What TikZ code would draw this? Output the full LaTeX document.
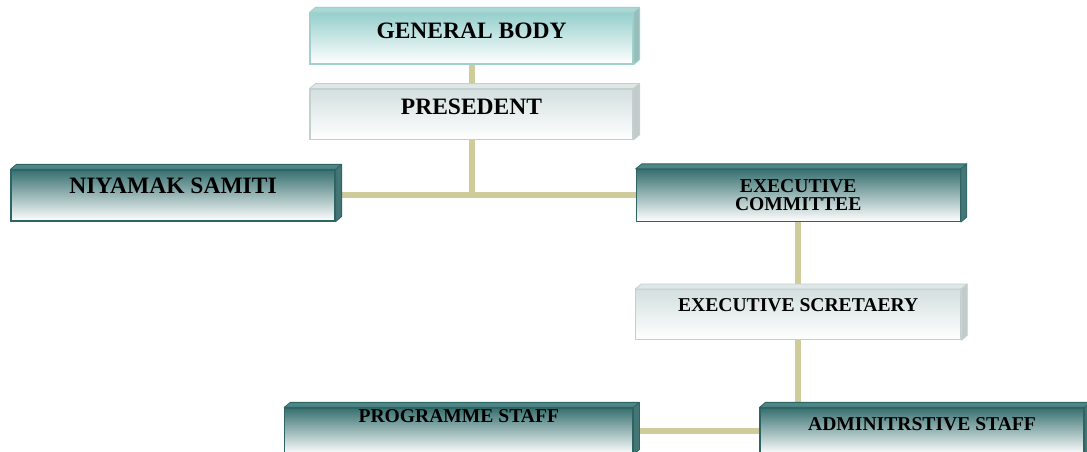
\documentclass[tikz,border=0pt]{standalone}
\usepackage{fontspec}
\setmainfont{Liberation Serif}
\usepackage{tikz}
\usetikzlibrary{positioning, backgrounds}

\definecolor{linkcol}{RGB}{206,204,155}
\definecolor{darkteal}{RGB}{56,112,112}
\definecolor{darkline}{RGB}{46,100,100}
\definecolor{darkface}{RGB}{78,134,134}
\definecolor{lightgrey}{RGB}{212,223,223}
\definecolor{lightline}{RGB}{196,208,208}
\definecolor{lightface}{RGB}{222,230,230}
\definecolor{paleteal}{RGB}{150,207,204}
\definecolor{paleline}{RGB}{160,208,204}
\definecolor{paleface}{RGB}{170,216,213}

\begin{document}
\begin{tikzpicture}[x=1pt, y=1pt]
    \tikzstyle{box} = [rectangle, inner sep=0pt, align=center, line width=1.2pt]
    \tikzstyle{darkbox} = [box, draw=darkline, top color=darkteal, bottom color=white]
    \tikzstyle{lightbox} = [box, draw=lightline, top color=lightgrey, bottom color=white]
    \tikzstyle{palebox} = [box, draw=paleline, top color=paleteal, bottom color=white]
    \tikzstyle{big} = [font=\bfseries\fontsize{23.5}{26}\selectfont]
    \tikzstyle{small} = [font=\bfseries\fontsize{19.6}{18}\selectfont]
    \tikzstyle{link} = [line width=6pt, draw=linkcol]

    \useasboundingbox (0,0) rectangle (1087,452);

    \node (gb) [palebox, big, minimum width=323pt, minimum height=51pt,
        text height=16pt, text depth=15pt] at (471.5,413.5) {GENERAL BODY};
    \node (pres) [lightbox, big, minimum width=323pt, minimum height=50pt,
        text height=16pt, text depth=15pt, below=24pt of gb] {PRESEDENT};

    \node (niy) [darkbox, big, minimum width=324pt, minimum height=51pt,
        text height=16pt, text depth=19pt] at (173,256.5) {NIYAMAK SAMITI};
    \node (ec) [darkbox, small, minimum width=324pt, minimum height=52pt,
        right=300pt of niy] {EXECUTIVE\\COMMITTEE};

    \node (es) [lightbox, small, minimum width=325pt, minimum height=50pt,
        text height=13pt, text depth=20pt, below=67pt of ec] {EXECUTIVE SCRETAERY};

    \node (adm) [darkbox, small, minimum width=324pt, minimum height=46pt,
        text height=13pt, text depth=13pt] at (922,21) {ADMINITRSTIVE STAFF};
    \node (prog) [darkbox, small, minimum width=348pt, minimum height=46pt,
        text height=13pt, text depth=30pt, left=126pt of adm] {PROGRAMME STAFF};

    % top and right faces give each box its raised look
    \foreach \n/\boxfill/\boxedge in {gb/paleface/paleline, pres/lightface/lightline,
        niy/darkface/darkline, ec/darkface/darkline, es/lightface/lightline,
        prog/darkface/darkline, adm/darkface/darkline} {
        \filldraw [fill=\boxfill, draw=\boxedge, line width=0.8pt, line join=round]
            (\n.north west) -- ([shift={(6,5)}]\n.north west)
            -- ([shift={(6,5)}]\n.north east) -- (\n.north east) -- cycle;
        \filldraw [fill=\boxfill!88!black, draw=\boxedge, line width=0.8pt, line join=round]
            (\n.north east) -- ([shift={(6,5)}]\n.north east)
            -- ([shift={(6,5)}]\n.south east) -- (\n.south east) -- cycle;
    }

    \begin{pgfonlayer}{background}
        \draw [link] (gb) -- (pres);
        \draw [link] (pres) -- (pres |- niy.east);
        \draw [link] (niy.east) -- (ec.west);
        \draw [link] (ec) -- (es);
        \draw [link] (es) -- (es |- adm.north);
        \draw [link] (prog) -- (adm);
    \end{pgfonlayer}
\end{tikzpicture}
\end{document}
